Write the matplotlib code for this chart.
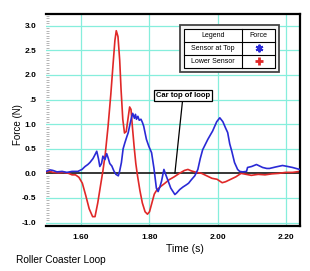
import matplotlib
matplotlib.use("Agg")
from matplotlib import pyplot as plt
from matplotlib.patches import Rectangle
from matplotlib.lines import Line2D
import numpy as np

plt.rcParams['font.family'] = ['Liberation Sans', 'DejaVu Sans']

# Lower Sensor (red)
red_t = [1.500, 1.510, 1.520, 1.535, 1.550, 1.565, 1.575, 1.585, 1.595, 1.605,
         1.615, 1.625, 1.635, 1.642, 1.650, 1.658, 1.665, 1.672, 1.680, 1.688,
         1.695, 1.700, 1.704, 1.709, 1.714, 1.718, 1.723, 1.728, 1.733, 1.738,
         1.743, 1.747, 1.751, 1.756, 1.761, 1.766, 1.773, 1.780, 1.788, 1.795,
         1.801, 1.808, 1.815, 1.823, 1.833, 1.846, 1.858, 1.873, 1.888, 1.903,
         1.913, 1.923, 1.938, 1.953, 1.968, 1.983, 1.998, 2.013, 2.023, 2.038,
         2.053, 2.068, 2.083, 2.098, 2.118, 2.138, 2.158, 2.178, 2.198, 2.218,
         2.240]
red_f = [0.03, 0.04, 0.02, 0.01, 0.02, 0.00, -0.03, -0.03, -0.08, -0.20,
         -0.45, -0.72, -0.88, -0.88, -0.60, -0.25, 0.05, 0.40, 0.95, 1.60,
         2.25, 2.70, 2.90, 2.78, 2.30, 1.70, 1.10, 0.82, 0.85, 1.10,
         1.35, 1.30, 0.95, 0.55, 0.20, -0.05, -0.35, -0.60, -0.78, -0.83,
         -0.78, -0.60, -0.42, -0.33, -0.27, -0.20, -0.13, -0.07, 0.00, 0.06,
         0.08, 0.05, 0.02, 0.00, -0.05, -0.10, -0.12, -0.19, -0.17, -0.12,
         -0.07, 0.00, -0.02, -0.04, -0.02, -0.03, -0.01, 0.00, 0.02, 0.02,
         0.04]

# Sensor at Top (blue)
blue_t = [1.499, 1.511, 1.519, 1.531, 1.546, 1.560, 1.575, 1.592, 1.604, 1.613,
          1.621, 1.627, 1.636, 1.642, 1.647, 1.652, 1.656, 1.661, 1.665, 1.671,
          1.676, 1.680, 1.685, 1.691, 1.697, 1.703, 1.710, 1.714, 1.719, 1.724,
          1.729, 1.735, 1.739, 1.744, 1.749, 1.752, 1.757, 1.760, 1.763, 1.767,
          1.771, 1.776, 1.780, 1.784, 1.792, 1.799, 1.807, 1.814, 1.821, 1.826,
          1.831, 1.836, 1.843, 1.848, 1.854, 1.863, 1.875, 1.880, 1.889, 1.898,
          1.909, 1.915, 1.923, 1.933, 1.942, 1.949, 1.956, 1.971, 1.980, 1.985,
          1.997, 2.006, 2.015, 2.023, 2.029, 2.035, 2.041, 2.049, 2.058, 2.064,
          2.073, 2.084, 2.087, 2.099, 2.113, 2.122, 2.131, 2.143, 2.151, 2.169,
          2.189, 2.204, 2.218, 2.239]
blue_f = [0.04, 0.07, 0.06, 0.03, 0.04, 0.02, 0.04, 0.04, 0.08, 0.14,
          0.18, 0.22, 0.30, 0.38, 0.45, 0.30, 0.14, 0.20, 0.35, 0.28,
          0.40, 0.32, 0.20, 0.15, 0.05, -0.02, -0.05, 0.05, 0.22, 0.50,
          0.62, 0.75, 0.83, 1.00, 1.15, 1.22, 1.12, 1.20, 1.10, 1.16,
          1.08, 1.10, 1.04, 0.96, 0.69, 0.55, 0.42, 0.10, -0.30, -0.37,
          -0.28, -0.16, 0.08, -0.02, -0.13, -0.30, -0.43, -0.40, -0.33, -0.28,
          -0.23, -0.20, -0.13, -0.05, 0.08, 0.30, 0.48, 0.69, 0.80, 0.86,
          1.05, 1.13, 1.05, 0.92, 0.83, 0.60, 0.45, 0.22, 0.08, 0.04,
          0.03, 0.04, 0.12, 0.14, 0.18, 0.15, 0.12, 0.10, 0.10, 0.13,
          0.16, 0.14, 0.12, 0.08]

x_ticks = [1.60, 1.80, 2.00, 2.20]
x_labels = ["1.60", "1.80", "2.00", "2.20"]
y_ticks = [-1.0, -0.5, 0.0, 0.5, 1.0, 1.5, 2.0, 2.5, 3.0]
y_labels = ["-1.0", "-0.5", "0.0", "0.5", "1.0", ".5", "2.0", "2.5", "3.0"]

W, H = 310, 271
fig = plt.figure(figsize=(W / 100, H / 100), dpi=100)
ax = fig.add_axes([46 / W, 1 - 226 / H, 254 / W, 212 / H])

grid_c = '#86eedc'
for t in x_ticks:
    ax.axvline(t, color=grid_c, lw=0.9, zorder=0)
for f in y_ticks:
    if f != 0.0:
        ax.axhline(f, color=grid_c, lw=0.9, zorder=0)
ax.axhline(0, color='black', lw=1.1, zorder=1)

ax.plot(blue_t, blue_f, color='#2a2ad6', lw=1.2, zorder=3)
ax.plot(red_t, red_f, color='#e02828', lw=1.2, zorder=2)

ax.set_xlim(1.499, 2.240)
ax.set_ylim(-1.07, 3.24)
ax.set_xticks(x_ticks, x_labels)
ax.set_yticks(y_ticks, y_labels)
ax.set_yticks(np.arange(-1.0, 3.21, 0.05), minor=True)
ax.tick_params(axis='both', length=0, labelsize=6)
ax.tick_params(axis='y', pad=7)
ax.tick_params(axis='x', pad=6)
ax.tick_params(axis='y', which='minor', length=2, color='#aaaaaa', direction='in', width=0.6)
ax.tick_params(axis='x', which='minor', length=0)
for lab in ax.get_xticklabels() + ax.get_yticklabels():
    lab.set_fontweight('bold')

ax.spines['left'].set_visible(False)
for s in ['top', 'right', 'bottom']:
    ax.spines[s].set_linewidth(1.6)

ax.annotate("Car top of loop", xy=(1.875, 0.0), xytext=(1.899, 1.59),
            fontsize=5.5, fontweight='bold', ha='center', va='center',
            bbox=dict(boxstyle='square,pad=0.25', fc='white', ec='black', lw=0.9),
            arrowprops=dict(arrowstyle='-', color='black', lw=0.9, shrinkA=0, shrinkB=0),
            zorder=5)

# legend table drawn in figure pixels
def fx(x):
    return x / W

def fy(y):
    return 1 - y / H

fig.add_artist(Rectangle((fx(180), fy(71.7)), fx(99), 46.7 / H, fc='#f4f4f4',
                         ec='#444444', lw=1.3, zorder=6))
fig.add_artist(Rectangle((fx(184), fy(67.5)), fx(91), 38.5 / H, fc='white',
                         ec='black', lw=0.8, zorder=7))
for yy in [41.7, 54.6]:
    fig.add_artist(Line2D([fx(184), fx(275)], [fy(yy), fy(yy)], color='black', lw=0.8, zorder=8))
fig.add_artist(Line2D([fx(242), fx(242)], [fy(29), fy(67.5)], color='black', lw=0.8, zorder=8))

fig.text(fx(213), fy(35.4), "Legend", fontsize=5, ha='center', va='center', zorder=9)
fig.text(fx(258.5), fy(35.4), "Force", fontsize=5, ha='center', va='center', zorder=9)
fig.text(fx(213), fy(48.2), "Sensor at Top", fontsize=5, ha='center', va='center', zorder=9)
fig.text(fx(213), fy(61.1), "Lower Sensor", fontsize=5, ha='center', va='center', zorder=9)
fig.add_artist(Line2D([fx(258.5)], [fy(48.2)], marker=(6, 2, 0), ms=5.5, mew=1.4,
                      color='#2a2ad6', zorder=9))
fig.add_artist(Line2D([fx(258.5)], [fy(61.1)], marker='+', ms=6, mew=2.0,
                      color='#e02828', zorder=9))

fig.text(fx(18), fy(125), "Force (N)", fontsize=7, rotation=90, ha='center', va='center')
fig.text(fx(185), fy(249), "Time (s)", fontsize=7.5, ha='center', va='center')
fig.text(fx(16.5), fy(260), "Roller Coaster Loop", fontsize=7.3, ha='left', va='center')

fig.savefig("out.png", dpi=100)
